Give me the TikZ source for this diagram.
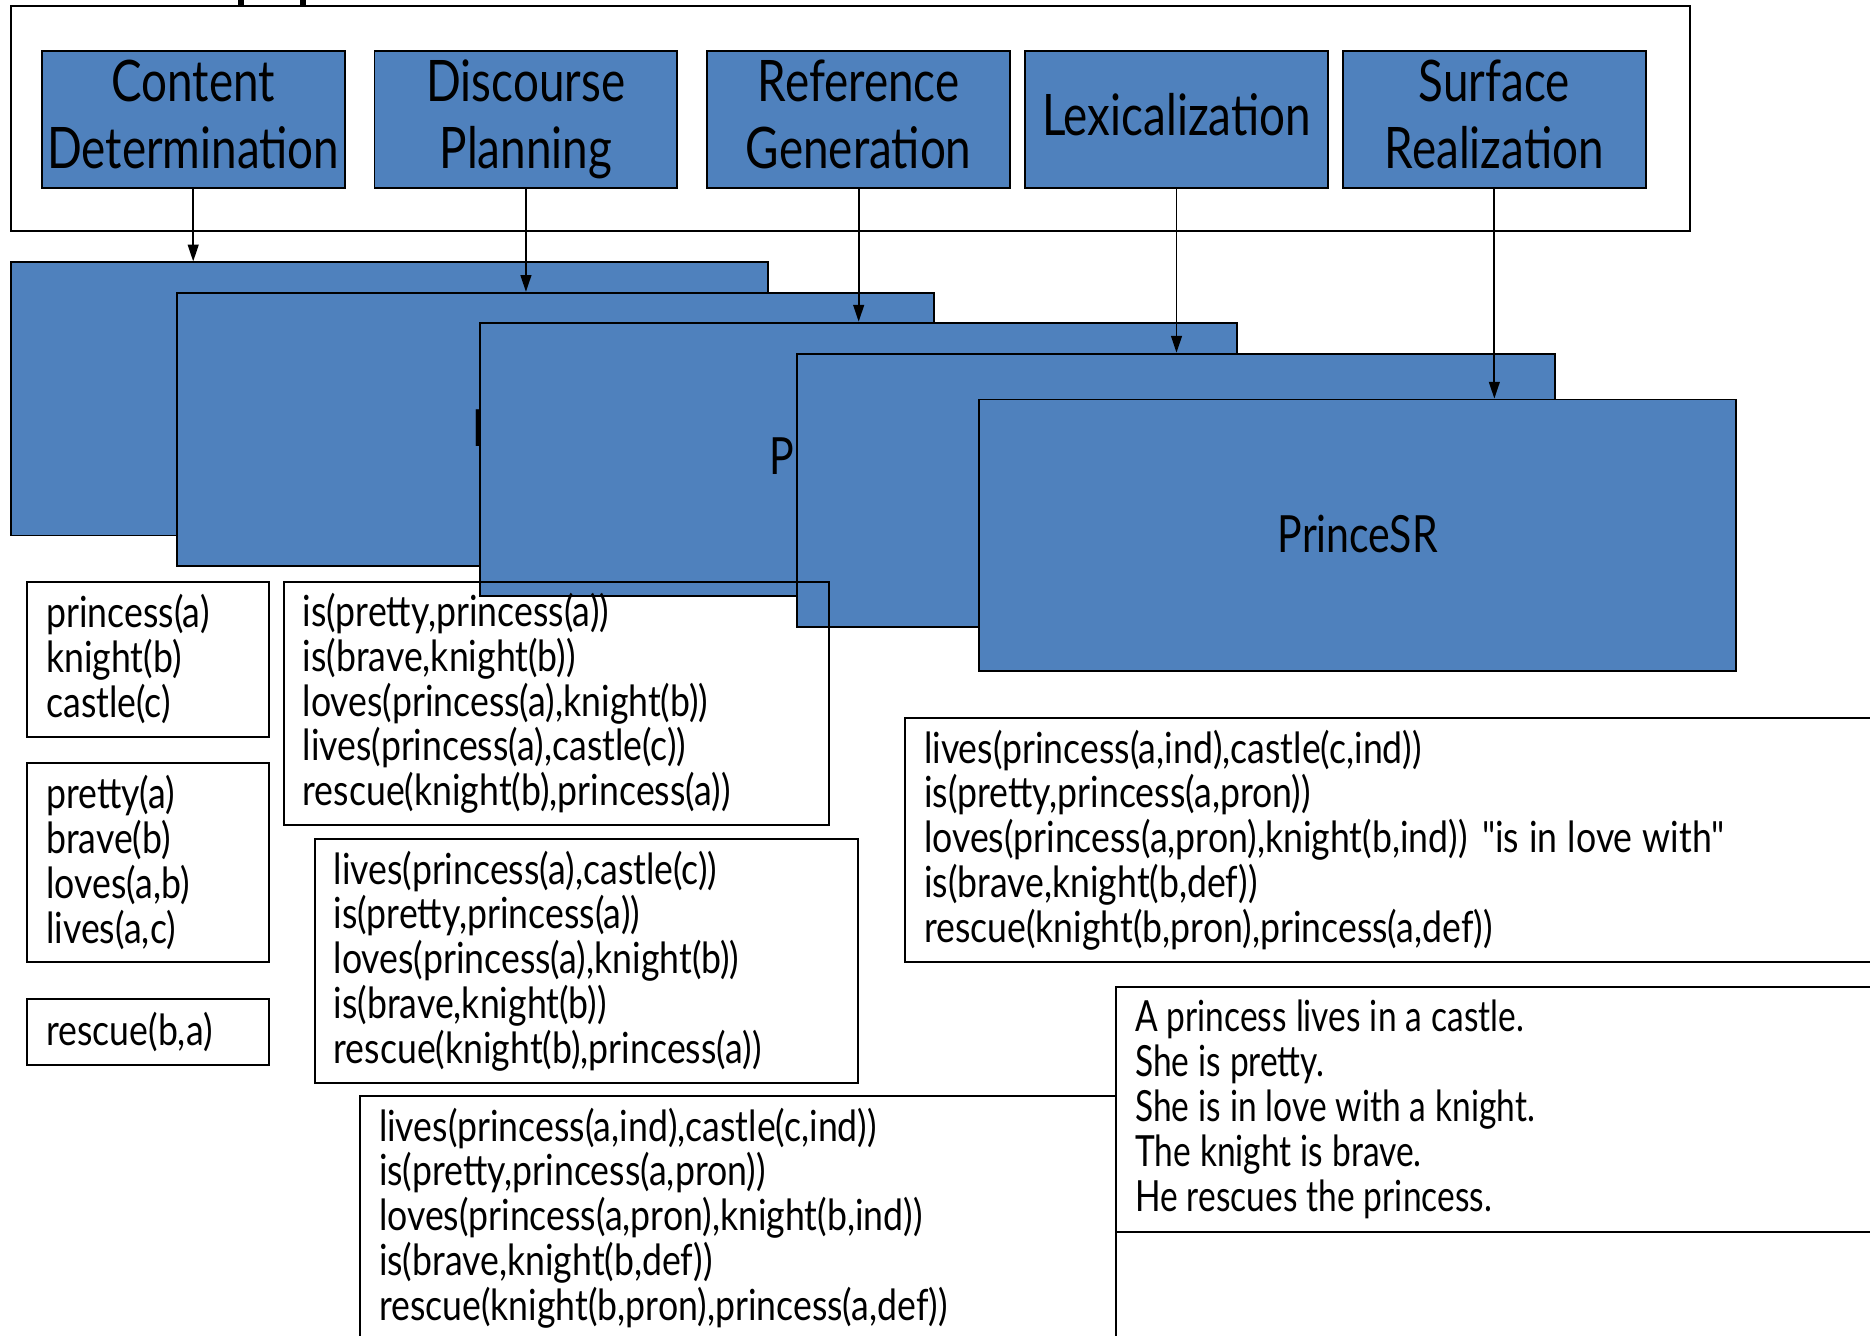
\documentclass[tikz,border=0pt]{standalone}
\usepackage{fontspec}
\setmainfont{Lato}[FakeStretch=0.8]
\newfontfamily\formfont{Lato}[FakeStretch=0.83, Ligatures=TeXOff]
\newfontfamily\sentfont{Lato}[FakeStretch=0.78, Ligatures=TeXOff]
\usetikzlibrary{arrows.meta}
\definecolor{nlgblue}{HTML}{4F81BD}
\newcommand\stgtop{\rule{0pt}{36pt}}
\newcommand\stgbot{\rule[-10.5pt]{0pt}{10.5pt}}
\begin{document}
\begin{tikzpicture}[x=1pt,y=-1pt,
  stage/.style={draw=black, fill=nlgblue, line width=1.6pt, minimum width=254pt, minimum height=115pt, inner sep=0pt, align=center, font=\fontsize{48}{55.5}\selectfont},
  bluebox/.style={draw=black, fill=nlgblue, line width=1.6pt, minimum width=635pt, minimum height=229pt, inner sep=0pt},
  prince/.style={font=\fontsize{43}{48}\selectfont, inner sep=0pt, anchor=base west},
  txtbox/.style={draw=black, line width=1.6pt, anchor=north west, inner xsep=16pt, inner ysep=0pt, align=left, font=\formfont\fontsize{36}{37.6}\selectfont, execute at begin node={\spaceskip=8.5pt\relax}},
  sentbox/.style={txtbox, font=\sentfont\fontsize{36}{37.6}\selectfont, execute at begin node={\spaceskip=7.6pt\relax}},
  link/.style={line width=1.5pt, -{Triangle[length=14pt,width=9pt]}}
]
\useasboundingbox (0,0) rectangle (1568,1120);
\clip (0,0) rectangle (1568,1120);
\fill[white] (0,0) rectangle (1568,1120);
% frame
\draw[line width=1.6pt] (9,5) rectangle (1417,194);
\fill[black] (199.6,0) rectangle (204.6,5);
\fill[black] (251.5,0) rectangle (256.6,5);
% stages
\node[stage] (cd) at (162,100.5) {\stgtop Content\\Determination\stgbot};
\node[stage] (dp) at (441,100.5) {\stgtop Discourse\\Planning\stgbot};
\node[stage] (rg) at (720,100.5) {\stgtop Reference\\Generation\stgbot};
\node[stage] (lx) at (986.5,100.5) {\stgtop Lexicalization\stgbot};
\node[stage] (sr) at (1253,100.5) {\stgtop Surface\\Realization\stgbot};
% stacked blue boxes
\node[bluebox] (b1) at (326.5,334.5) {};
\node[bluebox] (b2) at (466,360) {};
\node[prince] (p2) at (396,374) {P};
\node[bluebox] (b3) at (720,385) {};
\node[prince] (p3) at (645,398) {P};
\node[bluebox] (b4) at (986,411) {};
\node[bluebox, minimum height=228pt] (b5) at (1138.5,449) {};
\node[prince, anchor=base] (p5) at (1138.5,463) {PrinceSR};
% text boxes
\node[txtbox, text width=171pt, minimum height=130pt] (ta) at (22,487) {princess(a)\\knight(b)\\castle(c)};
\node[txtbox, text width=171pt, minimum height=167pt] (tb) at (22,639) {pretty(a)\\brave(b)\\loves(a,b)\\lives(a,c)};
\node[txtbox, text width=171pt, minimum height=55pt] (tc) at (22,837) {rescue(b,a)};
\node[txtbox, text width=425pt, minimum height=204pt] (td) at (237,487) {is(pretty,princess(a))\\is(brave,knight(b))\\loves(princess(a),knight(b))\\lives(princess(a),castle(c))\\rescue(knight(b),princess(a))};
\node[txtbox, text width=424pt, minimum height=204pt] (te) at (263,703) {lives(princess(a),castle(c))\\is(pretty,princess(a))\\loves(princess(a),knight(b))\\is(brave,knight(b))\\rescue(knight(b),princess(a))};
\node[txtbox, text width=602pt, minimum height=205pt] (tf) at (301,918) {lives(princess(a,ind),castle(c,ind))\\is(pretty,princess(a,pron))\\loves(princess(a,pron),knight(b,ind))\\is(brave,knight(b,def))\\rescue(knight(b,pron),princess(a,def))};
\node[txtbox, text width=868pt, minimum height=205pt] (tg) at (758,601) {lives(princess(a,ind),castle(c,ind))\\is(pretty,princess(a,pron))\\loves(princess(a,pron),knight(b,ind))\hspace{12pt}"is in love with"\\is(brave,knight(b,def))\\rescue(knight(b,pron),princess(a,def))};
\node[sentbox, text width=868pt, minimum height=205pt] (th) at (935,827) {A princess lives in a castle.\\She is pretty.\\She is in love with a knight.\\The knight is brave.\\He rescues the princess.};
% arrows
\draw[link] (cd.south) -- (cd.south |- b1.north);
\draw[link] (dp.south) -- (dp.south |- b2.north);
\draw[link] (rg.south) -- (rg.south |- b3.north);
\draw[link] (lx.south) -- (lx.south |- b4.north);
\draw[link] (sr.south) -- (sr.south |- b5.north);
\end{tikzpicture}
\end{document}
